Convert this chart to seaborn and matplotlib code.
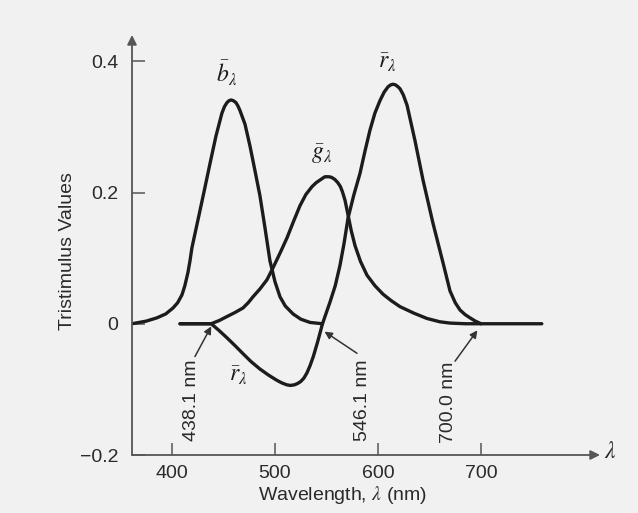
import numpy as np
import pandas as pd
import matplotlib
matplotlib.use("Agg")
import matplotlib.pyplot as plt
import seaborn as sns

# ---- data (wavelength nm, tristimulus value) ----
b_nm = [361.2, 375.0, 385.4, 394.0, 401.0, 405.5, 409.7, 412.5, 415.5, 417.5, 419.4, 425.2,
        431.1, 436.9, 442.7, 448.5, 451.0, 453.4, 455.5, 457.3, 459.5, 462.1, 464.0, 466.0,
        470.9, 475.7, 480.6, 485.4, 490.3, 495.1, 500.0, 504.9, 510.0, 517.5, 525.0,
        534.0, 540.0, 546.1]
b_val = [0.0, 0.004, 0.009, 0.015, 0.024, 0.032, 0.044, 0.058, 0.078, 0.096, 0.116, 0.158,
         0.201, 0.244, 0.286, 0.321, 0.331, 0.337, 0.340, 0.341, 0.340, 0.337, 0.332, 0.325,
         0.304, 0.271, 0.233, 0.195, 0.146, 0.096, 0.064, 0.041, 0.027, 0.015, 0.007,
         0.002, 0.001, 0.0]

g_nm = [407.8, 438.1, 446.0, 453.4, 461.0, 468.9, 474.0, 478.6, 485.4, 492.2, 498.0,
        505.0, 511.7, 518.0, 524.3, 530.0, 536.0, 540.0, 543.7, 546.5, 548.5, 550.5,
        552.5, 555.0, 558.0, 561.0, 563.5, 565.5, 568.0, 570.9, 574.0, 577.7, 583.0,
        589.3, 597.0, 604.9, 613.0, 621.4, 635.0, 647.6, 660.0, 670.0, 685.0, 700.0]
g_val = [0.0, 0.0, 0.005, 0.011, 0.017, 0.024, 0.032, 0.041, 0.053, 0.067, 0.085,
         0.108, 0.131, 0.156, 0.180, 0.197, 0.209, 0.215, 0.219, 0.222, 0.224, 0.224,
         0.224, 0.223, 0.220, 0.215, 0.209, 0.201, 0.188, 0.166, 0.142, 0.119, 0.095,
         0.074, 0.058, 0.045, 0.035, 0.026, 0.016, 0.008, 0.003, 0.001, 0.0, 0.0]

r_nm = [407.8, 438.1, 445.5, 453.1, 461.0, 469.2, 477.0, 485.4, 493.5, 501.6, 506.5,
        511.3, 515.0, 519.0, 522.0, 525.0, 528.0, 531.0, 534.0, 537.2, 541.5, 546.1, 553.4,
        558.5, 563.1, 567.0, 570.9, 576.5, 582.5, 587.5, 592.2, 597.0, 601.9, 606.0,
        609.7, 612.3, 614.6, 617.0, 619.5, 621.4, 624.5, 628.2, 635.9, 643.7, 653.4,
        663.1, 669.9, 675.0, 679.6, 684.5, 689.3, 694.5, 700.0, 759.0]
r_val = [0.0, 0.0, -0.010, -0.021, -0.033, -0.046, -0.058, -0.069, -0.078, -0.086, -0.090,
         -0.093, -0.094, -0.093, -0.091, -0.088, -0.083, -0.075, -0.064, -0.050, -0.027, 0.0,
         0.033, 0.058, 0.089, 0.122, 0.161, 0.196, 0.229, 0.264, 0.295, 0.321, 0.340, 0.353,
         0.361, 0.364, 0.365, 0.364, 0.361, 0.358, 0.349, 0.333, 0.279, 0.219, 0.153,
         0.093, 0.050, 0.032, 0.021, 0.014, 0.009, 0.004, 0.0, 0.0]

x_ticks = [400, 500, 600, 700]
y_ticks = [-0.2, 0.0, 0.2, 0.4]
y_tick_labels = ["\u22120.2", "0", "0.2", "0.4"]
marked_nm = [438.1, 546.1, 700.0]
marked_labels = ["438.1 nm", "546.1 nm", "700.0 nm"]

df = pd.concat([
    pd.DataFrame({"nm": b_nm, "val": b_val, "curve": "b"}),
    pd.DataFrame({"nm": g_nm, "val": g_val, "curve": "g"}),
    pd.DataFrame({"nm": r_nm, "val": r_val, "curve": "r"}),
], ignore_index=True)

sns.set_style("white")
plt.rcParams["font.family"] = ["Liberation Sans", "DejaVu Sans"]
plt.rcParams["mathtext.fontset"] = "stix"

bg = "#f1f1f1"
ink = "#1c1c1c"
axc = "#555555"
txt = "#2a2a2a"

fig = plt.figure(figsize=(6.38, 5.13), dpi=100, facecolor=bg)
ax = fig.add_axes([132 / 638, 58 / 513, 468 / 638, 420 / 513])
ax.set_facecolor(bg)

for name in ["b", "g", "r"]:
    sns.lineplot(data=df[df["curve"] == name], x="nm", y="val", sort=False,
                 color=ink, linewidth=2.4, ax=ax, legend=False)
for ln in ax.get_lines():
    ln.set_solid_joinstyle("round")
    ln.set_solid_capstyle("round")

ax.set_xlim(361.2, 815.5)
ax.set_ylim(-0.2, 0.44)
for s in ax.spines.values():
    s.set_visible(False)

arrow_kw = dict(arrowstyle="-|>", color=axc, lw=1.3, mutation_scale=14,
                shrinkA=0, shrinkB=0)
ax.annotate("", xy=(1, 0), xytext=(0, 0), xycoords="axes fraction",
            textcoords="axes fraction", arrowprops=arrow_kw)
ax.annotate("", xy=(0, 1), xytext=(0, 0), xycoords="axes fraction",
            textcoords="axes fraction", arrowprops=arrow_kw)

ax.set_xticks(x_ticks)
ax.set_xticklabels([str(t) for t in x_ticks])
ax.set_yticks(y_ticks)
ax.set_yticklabels(y_tick_labels)
ax.tick_params(axis="both", which="major", direction="in", length=9, width=1.1,
               color=axc, labelcolor=txt, labelsize=14,
               bottom=True, left=True, top=False, right=False)
ax.tick_params(axis="x", pad=7)
ax.tick_params(axis="y", pad=10)
ax.set_xlabel("")
ax.set_ylabel("")

fig.text(343 / 638, 1 - 495 / 513, "Wavelength, $\\lambda$ (nm)", ha="center",
         va="center", fontsize=14, color=txt)
fig.text(67 / 638, 1 - 251 / 513, "Tristimulus Values", ha="center", va="center",
         rotation=90, fontsize=14, color=txt)
fig.text(604 / 638, 1 - 452 / 513, "$\\lambda$", ha="left", va="center",
         fontsize=17, color=txt)

# curve labels
ax.text(453, 0.382, "$\\bar{b}_{\\lambda}$", fontsize=17, ha="center", va="center", color=ink)
ax.text(545, 0.259, "$\\bar{g}_{\\lambda}$", fontsize=17, ha="center", va="center", color=ink)
ax.text(609, 0.397, "$\\bar{r}_{\\lambda}$", fontsize=17, ha="center", va="center", color=ink)
ax.text(464, -0.080, "$\\bar{r}_{\\lambda}$", fontsize=17, ha="center", va="center", color=ink)

# marked wavelengths with pointing arrows
text_pos = [(419.4, -0.117), (585.4, -0.117), (668.0, -0.120)]
tail_pos = [(422.3, -0.050), (579.6, -0.045), (674.8, -0.057)]
tip_off = [(0.0, -0.004), (2.0, -0.012), (-3.5, -0.010)]
for lab, nm, tp, tl, off in zip(marked_labels, marked_nm, text_pos, tail_pos, tip_off):
    ax.text(tp[0], tp[1], lab, rotation=90, ha="center", va="center",
            fontsize=14, color=txt)
    ax.annotate("", xy=(nm + off[0], off[1]), xytext=tl,
                arrowprops=dict(arrowstyle="-|>", color="#333333", lw=1.1,
                                mutation_scale=11, shrinkA=0, shrinkB=0))

fig.savefig("out.png", dpi=100, facecolor=bg)
